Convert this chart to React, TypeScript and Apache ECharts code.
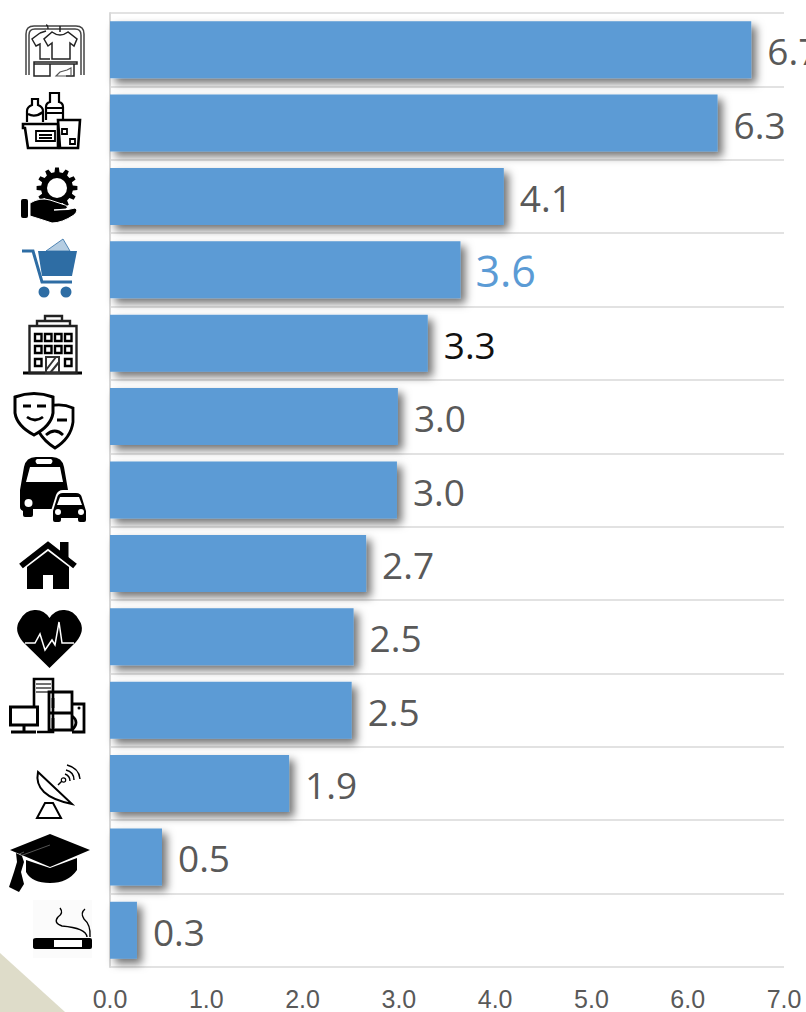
import React, { useEffect, useRef } from "react";
import * as echarts from "echarts";

const categories = ["Clothing", "Food and drinks", "Other services", "Shopping basket", "Hotels", "Culture", "Transport", "Housing", "Health", "Household goods", "Communications", "Education", "Tobacco"];
const values = [6.66, 6.31, 4.09, 3.64, 3.3, 2.99, 2.98, 2.66, 2.53, 2.51, 1.86, 0.54, 0.28];
const highlightIndex = 3;
const darkIndex = 4;

const circ = (cx: number, cy: number, r: number) =>
  `M${cx - r} ${cy}a${r} ${r} 0 1 0 ${2 * r} 0a${r} ${r} 0 1 0 ${-2 * r} 0Z`;
const rect = (x: number, y: number, w: number, h: number) => `M${x} ${y}h${w}v${h}h${-w}Z`;
const gear = (cx: number, cy: number, r1: number, r2: number, n: number) => {
  let d = "";
  for (let i = 0; i < n; i++) {
    const a = (i / n) * Math.PI * 2;
    const s = Math.PI / n / 2;
    const p = (r: number, t: number) => `${(cx + r * Math.cos(t)).toFixed(1)} ${(cy + r * Math.sin(t)).toFixed(1)}`;
    d += `${i ? "L" : "M"}${p(r1, a - s * 1.2)}L${p(r2, a - s * 0.7)}L${p(r2, a + s * 0.7)}L${p(r1, a + s * 1.2)}`;
  }
  return d + "Z";
};

type Part = { d: string; fill?: string; stroke?: string; lw?: number };
const K = "#000";
const W = "#fff";
const G = "#222";
const BLUE = "#2e6da4";

const iconParts: Part[] = [
  // clothes rack
  { d: "M26 75V34Q26 26 34 26H76Q84 26 84 34V75M29 75V35Q29 29 35 29H75Q81 29 81 35V75", stroke: "#444", lw: 1.5 },
  { d: "M40 33L32 39L36 46L40 44V59H50M46 31L40 33M48 29Q48 25 46 25", stroke: G, lw: 1.4 },
  { d: "M52 32L44 39L48 46L52 43V59H70V43L74 46L77 39L68 32Q60 38 52 32ZM60 32V26", stroke: G, lw: 1.5, fill: W },
  { d: "M34 62H77V64H34ZM34 64V76H50V64M50 64V76M66 76H74V64", stroke: G, lw: 1.5 },
  { d: "M56 76L60 72L67 70L71 68V76Z", stroke: "#555", lw: 1.1 },
  // groceries
  { d: "M27 122V111Q27 107 32 105V99H38V105Q43 107 43 111V122", stroke: K, lw: 2.2 },
  { d: "M28 114Q35 118 43 112", stroke: K, lw: 2.2 },
  { d: "M46 120V107Q46 103 50 102V93H59V102Q63 103 63 107V120M46 108H63M46 113H63", stroke: K, lw: 2.2 },
  { d: "M23 124H58V148H28L25 128H23Z", stroke: K, lw: 2.6, fill: W },
  { d: rect(36, 131, 19, 10) + "M39 135H52M39 138H52", stroke: K, lw: 1.8 },
  { d: "M58 120H80L78 148H60Z", stroke: K, lw: 2.6, fill: W },
  { d: rect(62, 129, 5, 5) + rect(70, 139, 5, 5), stroke: K, lw: 1.8 },
  // gear and hand
  { d: gear(57, 188, 16, 20.5, 12), fill: K },
  { d: circ(57, 188, 10), fill: W },
  { d: "M21 201Q21 199 23 199H26Q28 199 28 201V216Q28 218 26 218H23Q21 218 21 216Z", fill: K },
  { d: "M30 203Q40 197 50 200L62 204Q70 206 66 209L54 210L68 209.5L75 208Q79 210 74 215Q62 223 52 223Q40 219 30 216Z", fill: K, stroke: W, lw: 1 },
  // cart
  { d: "M22 251H33L42 282H72", stroke: BLUE, lw: 3 },
  { d: "M38 251H77L72 276H42Z", fill: BLUE },
  { d: "M46 251L63 239L70 251Z", fill: "#b5cde2", stroke: BLUE, lw: 0.8 },
  { d: circ(44, 292, 5.5) + circ(66, 292, 5.5), fill: BLUE },
  // building
  { d: "M23 373H82", stroke: K, lw: 2.8 },
  { d: rect(29.5, 326, 47, 47) + rect(37, 321, 33, 5) + rect(45, 316, 17, 5), stroke: "#222", lw: 2.4 },
  { d: [38, 48, 58, 68].map((x) => rect(x - 3, 334, 6.5, 7) + rect(x - 3, 346, 6.5, 7)).join("") + rect(35, 359, 6.5, 7) + rect(65, 359, 6.5, 7), stroke: K, lw: 2.4 },
  { d: rect(46, 357, 13, 16) + "M46 370L56 357M50 373L59 362", stroke: "#333", lw: 2 },
  // masks
  { d: "M50 406Q62 403 73 408V422Q71 438 55 448Q44 441 39 432", stroke: K, lw: 2.8, fill: W },
  { d: "M15 397Q34 390 53 397V413Q51 426 34 435Q17 426 15 413Z", stroke: K, lw: 3, fill: W },
  { d: "M23 406H31M37 406H46", stroke: K, lw: 2.8 },
  { d: "M27 417Q35 423 43 417", stroke: K, lw: 2.8 },
  { d: "M57 420H67M46 435Q55 427 63 435", stroke: K, lw: 2.8 },
  // bus and car
  { d: "M20 490L24 467Q26 457 36 457H52Q62 457 64 467L68 490V509H33V515Q33 517 31 517H25Q23 517 23 515V511Q20 510 20 507Z", fill: K },
  { d: "M30 467H60L63 482H26Z", fill: W },
  { d: "M37 459H51Q54 461 51 464H37Q34 461 37 459Z", fill: W },
  { d: circ(28.5, 503, 4), fill: W },
  { d: "M51 511L56 495Q58 490 63 490H76Q82 490 84 495L88 511V524H51Z", fill: W },
  { d: "M53 511L57 498Q58 493 63 493H76Q81 493 82 498L86 511V520Q86 522 84 522H80Q78 522 78 520V518H61V520Q61 522 59 522H55Q53 522 53 520Z", fill: K },
  { d: "M60 497H79L82 505H57Z", fill: W },
  { d: circ(58, 512, 3) + circ(81, 512, 3), fill: W },
  // house
  { d: rect(60, 542, 8.5, 16), fill: K },
  { d: "M27 567L48 551L69 567V589H53V575H43V589H27Z", fill: K },
  { d: "M21 566L48 545L75 566", stroke: K, lw: 6 },
  // heart
  { d: "M49.5 668L23 642Q13 630 20 620Q26 609 36 610Q44 610 49.5 618Q55 610 63 610Q73 609 79 620Q86 630 76 642Z", fill: K },
  { d: "M25 643H35L40 634L45 650L52 640L55 645L59 622L62 643H74", stroke: W, lw: 1.5 },
  // appliances
  { d: rect(10.5, 707, 27, 18) + "M24 725V732M11 732H36", stroke: K, lw: 3 },
  { d: "M34 706V679H53V732H37", stroke: K, lw: 2.6 },
  { d: "M36 684H51M36 688H51M36 692H51", stroke: "#444", lw: 1.5 },
  { d: rect(49, 692, 23, 38) + "M49 713H72M53 698V708M53 718V728", stroke: K, lw: 2.8 },
  { d: "M72 704H84V732H72M72 716Q80 722 72 730", stroke: K, lw: 2.8 },
  { d: circ(79, 708, 1.5), fill: K },
  // satellite dish
  { d: "M38 772Q33 796 72 804Z", stroke: K, lw: 2, fill: W },
  { d: "M37 818H61L53 803H45Z", stroke: K, lw: 2 },
  { d: "M58 785L62 781", stroke: K, lw: 1.5 },
  { d: circ(63.5, 780, 2.2), stroke: K, lw: 1.2 },
  { d: "M65 774Q70 776 70 781M66 770Q74 772 74 780M67 765Q79 768 80 779", stroke: K, lw: 1.4 },
  // mortarboard
  { d: "M50 834L90 850L50 867L10 850Z", fill: K },
  { d: "M26 860L50 868L77 858V870Q68 883 50 883Q32 883 26 872Z", fill: K },
  { d: "M17 855L24 852M20 856L50 845", stroke: "#777", lw: 0.7 },
  { d: "M16 853L17 862L14 872L9 887L19 892L24 884L21 872L24 862L22 856Z", fill: K },
  // cigarette
  { d: rect(33, 900, 59, 58), fill: "#fbfbfb" },
  { d: "M36 938H90Q92 938 92 940V947Q92 949 90 949H36Q33 949 33 947V940Q33 938 36 938Z", fill: K },
  { d: rect(54, 940, 28, 7), fill: W },
  { d: "M60 908Q64 913 58 917Q53 923 62 926Q86 928 87 937M85 909Q80 913 84 919Q91 925 90 937", stroke: K, lw: 1.4 },
];

iconParts.forEach((p, i) => {
  echarts.graphic.registerShape("ic" + i, echarts.graphic.extendPath(p.d, {}));
});

export default function App() {
  const ref = useRef<HTMLDivElement>(null);
  useEffect(() => {
    const chart = echarts.init(ref.current!, null, { renderer: "svg" });
    const icons = iconParts.map((p, i) => ({
      type: "ic" + i,
      silent: true,
      style: {
        fill: p.fill ?? "none",
        stroke: p.stroke ?? "none",
        lineWidth: p.lw ?? 0,
      },
    }));
    chart.setOption({
      animation: false,
      backgroundColor: "#fff",
      grid: { left: 110, right: 22, top: 13, bottom: 45, containLabel: false, outerBoundsMode: "none" },
      xAxis: {
        type: "value",
        min: 0,
        max: 7,
        interval: 1,
        axisLine: { show: false },
        axisTick: { show: false },
        splitLine: { show: false },
        axisLabel: {
          formatter: (v: number) => v.toFixed(1),
          fontFamily: "Liberation Sans",
          fontSize: 25,
          color: "#595959",
          margin: 19,
          hideOverlap: false,
        },
      },
      yAxis: {
        type: "category",
        inverse: true,
        data: categories,
        axisTick: { show: false },
        axisLabel: { show: false },
        axisLine: { show: true, lineStyle: { color: "#d9d9d9", width: 2 } },
        splitLine: { show: true, interval: 0, lineStyle: { color: "#d9d9d9", width: 1.5 } },
      },
      series: [
        {
          type: "bar",
          barWidth: 57,
          data: values.map((v, i) => ({
            value: v,
            label:
              i === highlightIndex
                ? { fontSize: 43, color: "#5b9bd5", distance: 15 }
                : i === darkIndex
                ? { color: "#111111" }
                : {},
          })),
          itemStyle: {
            color: "#5b9bd5",
            shadowColor: "rgba(0,0,0,0.55)",
            shadowBlur: 8,
            shadowOffsetX: 5,
            shadowOffsetY: 5,
          },
          label: {
            show: true,
            position: "right",
            distance: 16,
            offset: [0, 1],
            formatter: (p: any) => p.value.toFixed(1),
            fontFamily: "Open Sans",
            fontSize: 37,
            color: "#595959",
          },
        },
      ],
      graphic: {
        elements: [
          {
            type: "polygon",
            silent: true,
            shape: { points: [[0, 953], [65, 1012], [0, 1012]] },
            style: { fill: "#dedcc9" },
          },
          ...icons,
        ],
      },
    });
    return () => chart.dispose();
  }, []);
  return <div ref={ref} style={{ position: "absolute", left: 0, top: 0, width: 806, height: 1012 }} />;
}
